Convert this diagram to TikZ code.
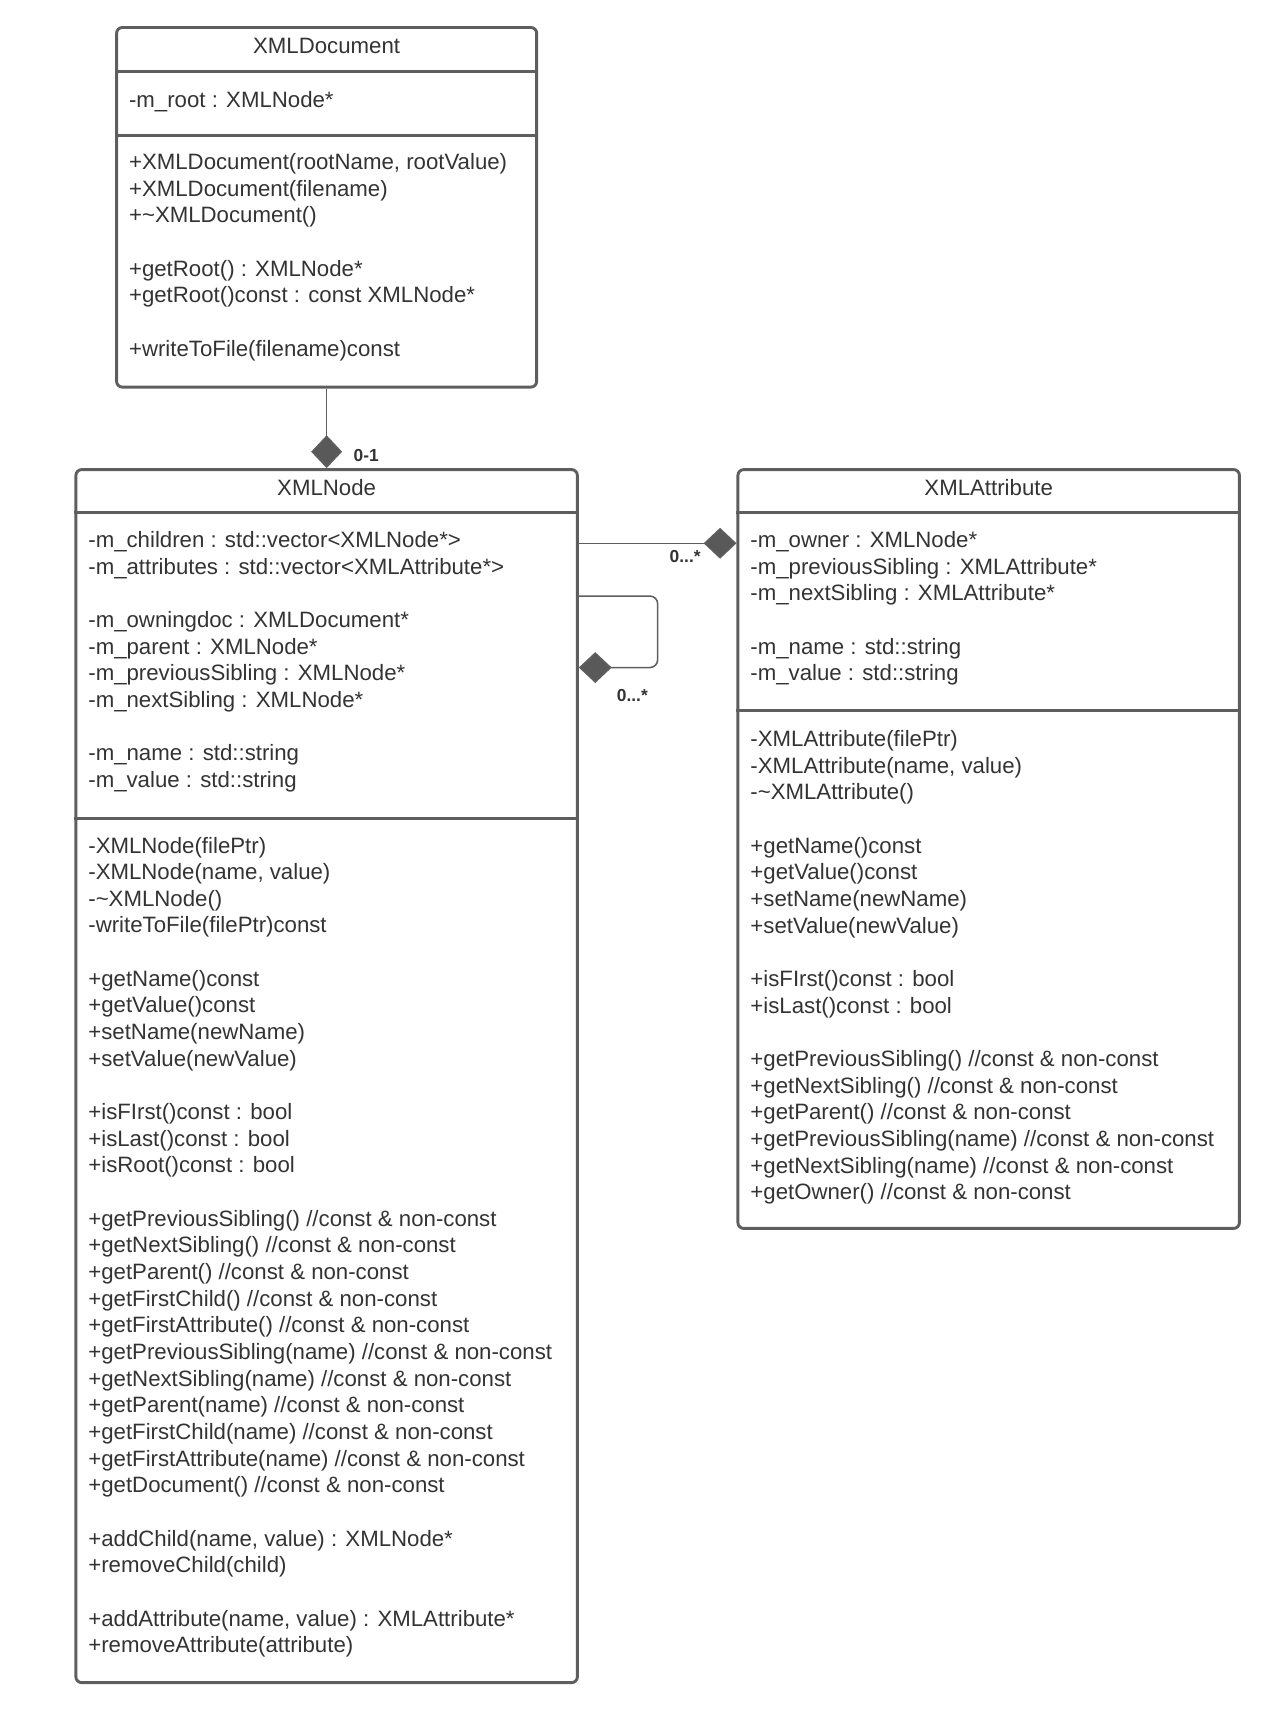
\documentclass[tikz,border=0pt]{standalone}
\usepackage{fontspec}
\setmainfont{Liberation Sans}
\usetikzlibrary{arrows.meta,fit}
\definecolor{umlline}{RGB}{94,94,94}
\definecolor{umltext}{RGB}{51,51,51}
\definecolor{umlfill}{RGB}{89,89,89}
\begin{document}
\begin{tikzpicture}[x=0.02cm,y=-0.02cm,
  classbox/.style={draw=umlline,line width=1.5pt,rounded corners=3pt,inner sep=0pt},
  sepline/.style={draw=umlline,line width=1.5pt},
  title/.style={font=\fontsize{11.5}{13.8}\selectfont,text=umltext,inner sep=0pt},
  members/.style={font=\fontsize{11.5}{13.8}\selectfont,text=umltext,align=left,anchor=base west,inner sep=0pt},
  mult/.style={font=\bfseries\fontsize{9}{11}\selectfont,text=umltext,inner sep=0pt},
  link/.style={draw=umlline,line width=0.8pt},
  compo/.style={link,-{Diamond[length=17pt,width=16pt,fill=umlfill]}}]
\useasboundingbox (0,0) rectangle (1160,1564);
%XMLDocument
\node[classbox,fit={(106,25) (488,352)}] (docbox) {};
\draw[sepline] (docbox.west |- 0,65) -- (docbox.east |- 0,65);
\draw[sepline] (docbox.west |- 0,123) -- (docbox.east |- 0,123);
\node[title] (doctitle) at (297,42) {XMLDocument};
% base = last line
\node[members] (docattr) at (117,98) {-m\_root : XMLNode*};
\node[members] (docops) at (117,324) {+XMLDocument(rootName, rootValue)\\+XMLDocument(filename)\\+\textasciitilde XMLDocument()\\[13.8pt]+getRoot() : XMLNode*\\+getRoot()const : const XMLNode*\\[13.8pt]+writeToFile(filename)const};
%XMLNode
\node[classbox,fit={(69,427) (525,1530)}] (nodebox) {};
\draw[sepline] (nodebox.west |- 0,466) -- (nodebox.east |- 0,466);
\draw[sepline] (nodebox.west |- 0,744) -- (nodebox.east |- 0,744);
\node[title] (nodetitle) at (297,443) {XMLNode};
\node[members] (nodeattr) at (80,716) {-m\_children : std::vector<XMLNode*>\\-m\_attributes : std::vector<XMLAttribute*>\\[13.8pt]-m\_owningdoc : XMLDocument*\\-m\_parent : XMLNode*\\-m\_previousSibling : XMLNode*\\-m\_nextSibling : XMLNode*\\[13.8pt]-m\_name : std::string\\-m\_value : std::string};
\node[members] (nodeops) at (80,1503) {-XMLNode(filePtr)\\-XMLNode(name, value)\\-\textasciitilde XMLNode()\\-writeToFile(filePtr)const\\[13.8pt]+getName()const\\+getValue()const\\+setName(newName)\\+setValue(newValue)\\[13.8pt]+isFIrst()const : bool\\+isLast()const : bool\\+isRoot()const : bool\\[13.8pt]+getPreviousSibling() //const \& non-const\\+getNextSibling() //const \& non-const\\+getParent() //const \& non-const\\+getFirstChild() //const \& non-const\\+getFirstAttribute() //const \& non-const\\+getPreviousSibling(name) //const \& non-const\\+getNextSibling(name) //const \& non-const\\+getParent(name) //const \& non-const\\+getFirstChild(name) //const \& non-const\\+getFirstAttribute(name) //const \& non-const\\+getDocument() //const \& non-const\\[13.8pt]+addChild(name, value) : XMLNode*\\+removeChild(child)\\[13.8pt]+addAttribute(name, value) : XMLAttribute*\\+removeAttribute(attribute)};
%XMLAttribute
\node[classbox,fit={(671,427) (1127,1117)}] (attrbox) {};
\draw[sepline] (attrbox.west |- 0,466) -- (attrbox.east |- 0,466);
\draw[sepline] (attrbox.west |- 0,646) -- (attrbox.east |- 0,646);
\node[title] (attrtitle) at (899,443) {XMLAttribute};
\node[members] (attrattr) at (682,619) {-m\_owner : XMLNode*\\-m\_previousSibling : XMLAttribute*\\-m\_nextSibling : XMLAttribute*\\[13.8pt]-m\_name : std::string\\-m\_value : std::string};
\node[members] (attrops) at (682,1091) {-XMLAttribute(filePtr)\\-XMLAttribute(name, value)\\-\textasciitilde XMLAttribute()\\[13.8pt]+getName()const\\+getValue()const\\+setName(newName)\\+setValue(newValue)\\[13.8pt]+isFIrst()const : bool\\+isLast()const : bool\\[13.8pt]+getPreviousSibling() //const \& non-const\\+getNextSibling() //const \& non-const\\+getParent() //const \& non-const\\+getPreviousSibling(name) //const \& non-const\\+getNextSibling(name) //const \& non-const\\+getOwner() //const \& non-const};
%Lien ket
\draw[compo] (docbox.south) -- (nodebox.north);
\draw[compo] (nodebox.east |- 0,494) -- (attrbox.west |- 0,494);
\draw[compo,rounded corners=4pt] (nodebox.east |- 0,542) -- (598,542) -- (598,607) -- (nodebox.east |- 0,607);
\node[mult] (m01) at (333,414) {0-1};
\node[mult] (mattr) at (623,506) {0...*};
\node[mult] (mself) at (575,632) {0...*};
\end{tikzpicture}
\end{document}
